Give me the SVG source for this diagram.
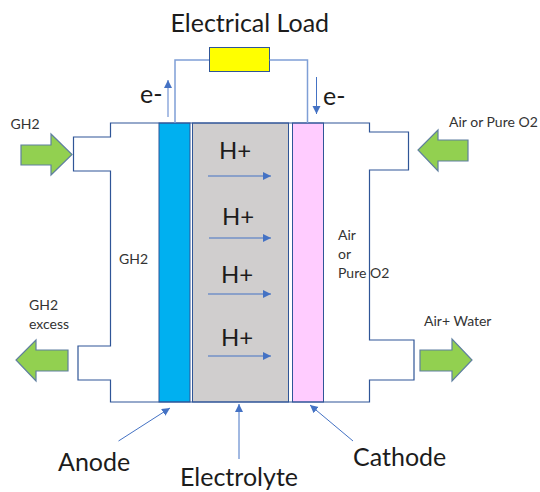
<svg xmlns="http://www.w3.org/2000/svg" width="540" height="492" viewBox="0 0 540 492">
<style>
text{font-family:Lato,"Open Sans",sans-serif;fill:#1c1c1c}
.s{font-size:14px;fill:#333}
.b{font-size:25px}
.h{font-size:24px}
.w{fill:none;stroke:#2f5597;stroke-width:1.2}
.c{fill:none;stroke:#4472c4;stroke-width:1;marker-end:url(#ah)}
.ar{fill:#92d050;stroke:#5f7f9f;stroke-width:1.2}
.wire{fill:none;stroke:#7f9fd6;stroke-width:1.5}
</style>
<defs><marker id="ah" markerUnits="userSpaceOnUse" markerWidth="10" markerHeight="10" refX="8" refY="4" orient="auto"><path d="M0 0L8 4L0 8Z" fill="#4472c4"/></marker></defs>
<rect width="540" height="492" fill="#fff"/>
<g id="electrolyte"><rect x="192.500" y="123" width="96" height="279" fill="#d0cece" stroke="#2f5597" stroke-width="1"/></g>
<g id="anode"><rect x="159" y="123" width="31" height="279" fill="#00b0f0" stroke="#2f5597" stroke-width="1"/></g>
<g id="cathode"><rect x="292.500" y="123" width="31" height="279" fill="#ffccff" stroke="#2f5597" stroke-width="1"/></g>
<g id="housing">
<path class="w" d="M159 123H110.500V137H73.500V171H110.500V346H78V380H110.500V402H369.500V380H414V340H369.500V170H408.500V132H369.500V123H159"/>
</g>
<g id="load"><rect x="209.500" y="47.500" width="60" height="24" fill="#ffff00" stroke="#2f5597" stroke-width="1"/></g>
<g id="connectors">
<path class="wire" d="M175 123V60H209"/>
<path class="wire" d="M269.500 60H307.500V123"/>
<path class="c" style="stroke:#8faadc;stroke-width:1.500" d="M168 117V80"/>
<path class="c" d="M316.500 77V114"/>
<path class="c" d="M208 176H271"/>
<path class="c" d="M209 238H271"/>
<path class="c" d="M208 294H271"/>
<path class="c" d="M208 356H271"/>
<path class="c" d="M118.500 441L170 408"/>
<path class="c" d="M239 459V404"/>
<path class="c" d="M353 441L310 405"/>
</g>
<g id="flows">
<path class="ar" d="M21 145H51V134L72 154.500L51 175V165H21Z"/>
<path class="ar" d="M468 140H438V130L418 150L438 171V161H468Z"/>
<path class="ar" d="M68 350H36V340L16 360L36 381V371H68Z"/>
<path class="ar" d="M420 350H452V339L472 360L452 381V371H420Z"/>
</g>
<g id="labels">
<text class="b" x="170.500" y="32">Electrical Load</text>
<text class="b" x="140" y="103">e-</text>
<text class="b" x="323" y="105">e-</text>
<text class="s" x="10.500" y="129">GH2</text>
<text class="s" x="449" y="127">Air or Pure O2</text>
<text class="s" x="119" y="264">GH2</text>
<text class="s" x="29" y="310">GH2</text>
<text class="s" x="29" y="329">excess</text>
<text class="s" x="338" y="240">Air</text>
<text class="s" x="338" y="259">or</text>
<text class="s" x="338" y="278">Pure O2</text>
<text class="s" x="424" y="326">Air+ Water</text>
<text class="h" x="219" y="159">H+</text>
<text class="h" x="222" y="225">H+</text>
<text class="h" x="221" y="283">H+</text>
<text class="h" x="221" y="346">H+</text>
<text class="b" x="58" y="471">Anode</text>
<text class="b" x="180" y="486">Electrolyte</text>
<text class="b" x="353" y="466">Cathode</text>
</g>
</svg>
